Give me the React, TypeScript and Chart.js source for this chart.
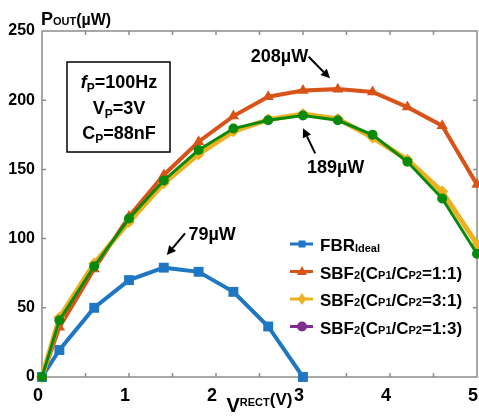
import { useEffect, useRef } from 'react';
import { Chart, registerables } from 'chart.js';

Chart.register(...registerables);

// Rectifier input voltage (V) at each measured point
const voltage = [0, 0.2, 0.6, 1.0, 1.4, 1.8, 2.2, 2.6, 3.0, 3.4, 3.8, 4.2, 4.6, 5.0];

// Output power (µW) per rectifier configuration
const fbrIdeal = [0, 19.5, 50, 70, 79, 76, 61.5, 36.5, 0];
const sbf2Ratio11 = [0, 36, 78, 116, 146, 170, 188.5, 202.5, 207, 208, 206, 195, 181.5, 139];
const sbf2Ratio31 = [0, 43, 82, 112, 140, 161, 177.5, 186, 190, 186.5, 173, 157, 134, 96];
const sbf2Ratio13 = [0, 41, 80, 114.5, 142, 164, 179.5, 185.5, 189, 185.5, 175, 155.5, 129, 89];

const xTickLabels = [0, 1, 2, 3, 4, 5];
const yTickValues = [0, 50, 100, 150, 200, 250];

const FONT = '"Liberation Sans", Arial, sans-serif';

type Seg = { t: string; size: number; drop?: number; italic?: boolean };

const MAIN = 17;
const SUB = 11;

const legendRows: Seg[][] = [
  [{ t: 'FBR', size: MAIN }, { t: 'Ideal', size: SUB, drop: 1 }],
  [{ t: 'SBF', size: MAIN }, { t: '2', size: SUB, drop: 0 }, { t: '(C', size: MAIN }, { t: 'P1', size: SUB, drop: 0 }, { t: '/C', size: MAIN }, { t: 'P2', size: SUB, drop: 0 }, { t: '=1:1)', size: MAIN }],
  [{ t: 'SBF', size: MAIN }, { t: '2', size: SUB, drop: 0 }, { t: '(C', size: MAIN }, { t: 'P1', size: SUB, drop: 0 }, { t: '/C', size: MAIN }, { t: 'P2', size: SUB, drop: 0 }, { t: '=3:1)', size: MAIN }],
  [{ t: 'SBF', size: MAIN }, { t: '2', size: SUB, drop: 0 }, { t: '(C', size: MAIN }, { t: 'P1', size: SUB, drop: 0 }, { t: '/C', size: MAIN }, { t: 'P2', size: SUB, drop: 0 }, { t: '=1:3)', size: MAIN }],
];

const conditionLines: Seg[][] = [
  [{ t: 'f', size: 18, italic: true }, { t: 'P', size: 12, drop: 4 }, { t: '=100Hz', size: 18 }],
  [{ t: 'V', size: 18 }, { t: 'P', size: 12, drop: 4 }, { t: '=3V', size: 18 }],
  [{ t: 'C', size: 18 }, { t: 'P', size: 12, drop: 4 }, { t: '=88nF', size: 18 }],
];

const yTitle: Seg[] = [{ t: 'P', size: 18 }, { t: 'OUT', size: 11 }, { t: '(µW)', size: 16 }];
const xTitle: Seg[] = [{ t: 'V', size: 20 }, { t: 'RECT', size: 11, drop: -6 }, { t: '(V)', size: 17, drop: -7 }];

// Peak callouts, positioned in data units (V, µW)
const peakNotes = [
  { text: '208µW', at: [2.73, 227.6], tail: [3.065, 231.4], head: [3.31, 215.8] },
  { text: '189µW', at: [3.375, 147.4], tail: [3.14, 161.6], head: [3.0, 179.7] },
  { text: '79µW', at: [1.955, 99], tail: [1.644, 103.8], head: [1.435, 88.2] },
];

const COLORS = {
  blue: '#1f77c4',
  orange: '#D95319',
  yellow: '#EDB120',
  green: '#0a8a0a',
  purple: '#7E2F8E',
};

const toPoints = (ys: number[]) => ys.map((y, i) => ({ x: voltage[i], y }));

const series = [
  { label: 'FBR Ideal', data: fbrIdeal, color: COLORS.blue, legendColor: COLORS.blue, style: 'rect', radius: 7, width: 4, order: 4 },
  { label: 'SBF2(CP1/CP2=1:1)', data: sbf2Ratio11, color: COLORS.orange, legendColor: COLORS.orange, style: 'triangle', radius: 6.5, width: 4, order: 3 },
  { label: 'SBF2(CP1/CP2=3:1)', data: sbf2Ratio31, color: COLORS.yellow, legendColor: COLORS.yellow, style: 'rectRot', radius: 6, width: 5, order: 2 },
  { label: 'SBF2(CP1/CP2=1:3)', data: sbf2Ratio13, color: COLORS.green, legendColor: COLORS.purple, style: 'circle', radius: 5, width: 3, order: 0 },
];

function segWidth(ctx: CanvasRenderingContext2D, s: Seg) {
  ctx.font = `${s.italic ? 'italic ' : ''}bold ${s.size}px ${FONT}`;
  return ctx.measureText(s.t).width;
}

function drawRich(ctx: CanvasRenderingContext2D, segs: Seg[], x: number, y: number, align: 'left' | 'center') {
  const total = segs.reduce((w, s) => w + segWidth(ctx, s), 0);
  let cx = align === 'center' ? x - total / 2 : x;
  ctx.textAlign = 'left';
  ctx.textBaseline = 'alphabetic';
  ctx.fillStyle = '#000';
  for (const s of segs) {
    const w = segWidth(ctx, s);
    ctx.fillText(s.t, cx, y + (s.drop || 0));
    cx += w;
  }
}

function drawMarker(ctx: CanvasRenderingContext2D, style: string, x: number, y: number, r: number, color: string) {
  ctx.fillStyle = color;
  ctx.beginPath();
  if (style === 'rect') {
    ctx.rect(x - r, y - r, 2 * r, 2 * r);
  } else if (style === 'triangle') {
    ctx.moveTo(x, y - r * 1.1);
    ctx.lineTo(x + r, y + r * 0.7);
    ctx.lineTo(x - r, y + r * 0.7);
    ctx.closePath();
  } else if (style === 'rectRot') {
    ctx.moveTo(x, y - r * 1.2);
    ctx.lineTo(x + r * 0.8, y);
    ctx.lineTo(x, y + r * 1.2);
    ctx.lineTo(x - r * 0.8, y);
    ctx.closePath();
  } else {
    ctx.arc(x, y, r, 0, Math.PI * 2);
  }
  ctx.fill();
}

function drawArrow(ctx: CanvasRenderingContext2D, x1: number, y1: number, x2: number, y2: number) {
  const ang = Math.atan2(y2 - y1, x2 - x1);
  const len = 9;
  const half = 4.5;
  const bx = x2 - Math.cos(ang) * len;
  const by = y2 - Math.sin(ang) * len;
  ctx.strokeStyle = '#000';
  ctx.lineWidth = 2;
  ctx.beginPath();
  ctx.moveTo(x1, y1);
  ctx.lineTo(bx, by);
  ctx.stroke();
  ctx.fillStyle = '#000';
  ctx.beginPath();
  ctx.moveTo(x2, y2);
  ctx.lineTo(bx + Math.sin(ang) * half, by - Math.cos(ang) * half);
  ctx.lineTo(bx - Math.sin(ang) * half, by + Math.cos(ang) * half);
  ctx.closePath();
  ctx.fill();
}

// Box outline with inward tick marks on all four sides
const framePlugin = {
  id: 'frame',
  beforeDatasetsDraw(chart: any) {
    const { ctx, chartArea: a, scales } = chart;
    const xs = scales.x;
    const ys = scales.y;
    ctx.save();
    ctx.strokeStyle = '#8c8c8c';
    ctx.lineWidth = 1.5;
    ctx.strokeRect(a.left, a.top, a.right - a.left, a.bottom - a.top);
    ctx.beginPath();
    for (let v = 0.5; v < 5; v += 0.5) {
      const px = xs.getPixelForValue(v);
      ctx.moveTo(px, a.bottom);
      ctx.lineTo(px, a.bottom - 4);
      ctx.moveTo(px, a.top);
      ctx.lineTo(px, a.top + 4);
    }
    for (const v of yTickValues) {
      if (v === 0 || v === 250) continue;
      const py = ys.getPixelForValue(v);
      ctx.moveTo(a.left, py);
      ctx.lineTo(a.left + 4, py);
      ctx.moveTo(a.right, py);
      ctx.lineTo(a.right - 4, py);
    }
    ctx.stroke();
    ctx.restore();
  },
};

const overlayPlugin = {
  id: 'overlay',
  afterDatasetsDraw(chart: any) {
    const { ctx, chartArea: a, scales } = chart;
    const xs = scales.x;
    const ys = scales.y;
    ctx.save();

    // Operating-condition box
    const bx = a.left + 25;
    const by = a.top + 31;
    ctx.strokeStyle = '#000';
    ctx.lineWidth = 1.5;
    ctx.strokeRect(bx, by, 103, 90);
    conditionLines.forEach((line, i) => drawRich(ctx, line, bx + 52, by + 26 + i * 25.5, 'center'));

    // Peak callouts
    for (const n of peakNotes) {
      drawArrow(ctx, xs.getPixelForValue(n.tail[0]), ys.getPixelForValue(n.tail[1]), xs.getPixelForValue(n.head[0]), ys.getPixelForValue(n.head[1]));
      drawRich(ctx, [{ t: n.text, size: 18 }], xs.getPixelForValue(n.at[0]), ys.getPixelForValue(n.at[1]), 'center');
    }

    // Legend
    const lx = a.left + 248;
    const ly = a.top + 213;
    series.forEach((s, i) => {
      const cy = ly + i * 27.5;
      ctx.strokeStyle = s.legendColor;
      ctx.lineWidth = 3;
      ctx.beginPath();
      ctx.moveTo(lx, cy);
      ctx.lineTo(lx + 23, cy);
      ctx.stroke();
      drawMarker(ctx, s.style, lx + 12, cy, s.style === 'rect' ? 3.5 : 5, s.legendColor);
      drawRich(ctx, legendRows[i], lx + 30, cy + 7, 'left');
    });

    // Axis titles
    drawRich(ctx, yTitle, a.left - 1, a.top - 6, 'left');
    drawRich(ctx, xTitle, xs.getPixelForValue(2.12), a.bottom + 35, 'left');

    ctx.restore();
  },
};

export default function App() {
  const ref = useRef<HTMLCanvasElement>(null);

  useEffect(() => {
    const canvas = ref.current;
    if (!canvas) return;
    const chart = new Chart(canvas, {
      type: 'line',
      data: {
        datasets: series.map((s) => ({
          label: s.label,
          data: toPoints(s.data),
          borderColor: s.color,
          backgroundColor: s.color,
          borderWidth: s.width,
          pointStyle: s.style as any,
          pointRadius: s.radius,
          pointBackgroundColor: s.color,
          pointBorderColor: s.color,
          pointBorderWidth: 0,
          tension: 0,
          clip: false as any,
          order: s.order,
        })),
      },
      options: {
        animation: false,
        responsive: false,
        devicePixelRatio: 1,
        layout: { padding: { top: 31, right: 8, left: 0, bottom: 0 } },
        plugins: {
          legend: { display: false },
          tooltip: { enabled: false },
          title: { display: false },
        },
        scales: {
          x: {
            type: 'linear',
            min: 0,
            max: 5,
            afterFit: (s: any) => {
              s.height = 39;
            },
            grid: { display: false, drawTicks: false },
            border: { display: false },
            ticks: {
              stepSize: 0.5,
              autoSkip: false,
              maxRotation: 0,
              padding: 8,
              labelOffset: -4,
              color: '#000',
              font: { family: FONT, size: 18, weight: 'bold' },
              callback: (v: any) => (xTickLabels.includes(Number(v)) ? String(v) : ''),
            },
          },
          y: {
            type: 'linear',
            min: 0,
            max: 250,
            afterFit: (s: any) => {
              s.width = 42;
            },
            grid: { display: false, drawTicks: false },
            border: { display: false },
            ticks: {
              stepSize: 50,
              padding: 7,
              color: '#000',
              font: { family: FONT, size: 16, weight: 'bold' },
              callback: (v: any) => (yTickValues.includes(Number(v)) ? String(v) : ''),
            },
          },
        },
      },
      plugins: [framePlugin, overlayPlugin],
    });
    return () => chart.destroy();
  }, []);

  return (
    <div style={{ position: 'fixed', left: 0, top: 0, width: 479, height: 416, overflow: 'hidden', background: '#fff' }}>
      <canvas ref={ref} width={490} height={416} style={{ display: 'block', width: 490, height: 416 }} />
    </div>
  );
}
